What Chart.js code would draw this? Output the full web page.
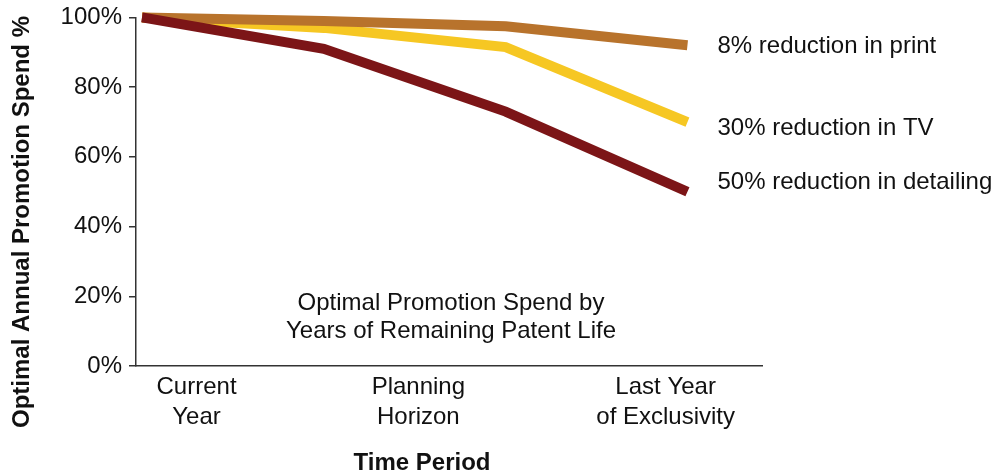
<!DOCTYPE html>
<html>
<head>
<meta charset="utf-8">
<script src="https://cdn.jsdelivr.net/npm/chart.js@4.4.1/dist/chart.umd.min.js"></script>
<style>
  html, body { margin: 0; padding: 0; background: #fff; }
  #wrap { width: 993px; height: 475px; position: relative; }
</style>
</head>
<body>
<div id="wrap"><canvas id="c" width="993" height="475"></canvas></div>
<script>
// Time steps along the patent life (0 = current year, 3 = last year of exclusivity)
const periods = [0, 1, 2, 3];

// Optimal annual promotion spend, % of current-year level, by channel
const detailing = [100, 91, 73, 50];
const print = [100, 99, 97.5, 92];
const tv = [100, 97, 91.5, 70];

const channelNames = ['detailing', 'print', 'TV'];
const yTicks = [0, 20, 40, 60, 80, 100];
const periodLabels = [['Current', 'Year'], ['Planning', 'Horizon'], ['Last Year', 'of Exclusivity']];
const yTitle = 'Optimal Annual Promotion Spend %';
const xTitle = 'Time Period';
const note = ['Optimal Promotion Spend by', 'Years of Remaining Patent Life'];

const FONT = '"Liberation Sans", Arial, Helvetica, sans-serif';
const TEXT = '#111';
const AXIS = '#333';

// where the period names sit along the time axis
const labelAt = [0.3, 1.52, 2.88];
// vertical nudges for the end-of-line captions
const captionNudge = [-9, 1, 6];

const seriesValues = [detailing, print, tv];
const seriesColors = ['#7C1517', '#B8732C', '#F6C723'];

const datasets = seriesValues.map((vals, i) => ({
  label: (100 - vals[vals.length - 1]) + '% reduction in ' + channelNames[i],
  data: periods.map((p, k) => ({ x: p, y: vals[k] })),
  borderColor: seriesColors[i],
  backgroundColor: seriesColors[i],
  borderWidth: 10,
  pointRadius: 0,
  tension: 0,
  fill: false,
  clip: false,
  borderJoinStyle: 'miter',
  borderCapStyle: 'butt'
}));

const textPlugin = {
  id: 'chartText',
  afterDraw(chart) {
    const { ctx, chartArea, scales: { x, y } } = chart;
    ctx.save();
    ctx.fillStyle = TEXT;

    // captions at the end of each line
    ctx.font = '24px ' + FONT;
    ctx.textAlign = 'left';
    ctx.textBaseline = 'middle';
    chart.data.datasets.forEach((ds, i) => {
      const last = ds.data[ds.data.length - 1];
      ctx.fillText(ds.label, x.getPixelForValue(last.x) + 30, y.getPixelForValue(last.y) + captionNudge[i]);
    });

    // note inside the plot
    ctx.textAlign = 'center';
    note.forEach((line, i) => {
      ctx.fillText(line, chartArea.left + 315, y.getPixelForValue(18) + i * 28);
    });

    // axis titles
    ctx.font = 'bold 24px ' + FONT;
    ctx.fillText(xTitle, chartArea.left + 286, chartArea.bottom + 97);
    ctx.translate(22, 222);
    ctx.rotate(-Math.PI / 2);
    ctx.fillText(yTitle, 0, 0);
    ctx.restore();
  }
};

new Chart(document.getElementById('c'), {
  type: 'line',
  data: { datasets },
  plugins: [textPlugin],
  options: {
    responsive: false,
    animation: false,
    layout: { padding: { left: 60, right: 231, top: 0, bottom: 0 } },
    plugins: { legend: { display: false }, tooltip: { enabled: false } },
    scales: {
      x: {
        type: 'linear',
        min: -0.033,
        max: 3.41,
        afterBuildTicks: s => { s.ticks = labelAt.map(v => ({ value: v })); },
        afterFit: s => { s.height = 109; },
        grid: { display: false, drawTicks: false, tickLength: 0 },
        border: { display: true, color: AXIS, width: 1.5 },
        ticks: {
          autoSkip: false,
          maxRotation: 0,
          padding: 6,
          color: TEXT,
          font: { family: FONT, size: 24, lineHeight: 1.25 },
          callback: (v, i) => periodLabels[i]
        }
      },
      y: {
        min: 0,
        max: 100,
        afterBuildTicks: s => { s.ticks = yTicks.map(v => ({ value: v })); },
        afterFit: s => { s.width = 76; },
        grid: { drawOnChartArea: false, drawTicks: true, tickLength: 7, color: AXIS, lineWidth: 1.5 },
        border: { display: true, color: AXIS, width: 1.5 },
        ticks: {
          padding: 7,
          color: TEXT,
          font: { family: FONT, size: 24, lineHeight: 0.87 },
          callback: v => v + '%'
        }
      }
    }
  }
});
</script>
</body>
</html>
